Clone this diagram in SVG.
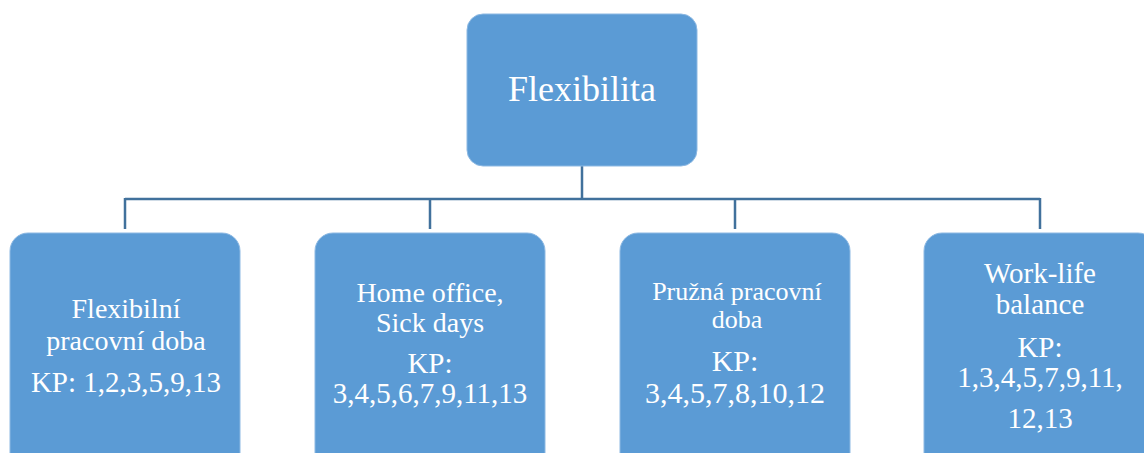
<svg xmlns="http://www.w3.org/2000/svg" width="1144" height="453" viewBox="0 0 1144 453">
<style>
.box{fill:#5B9BD5;stroke:#8DB9E3;stroke-width:1}
.t{font-family:"Liberation Serif","Times New Roman",Times,"DejaVu Serif",serif;fill:#fff;text-anchor:middle}
.c{fill:none;stroke:#41719C;stroke-width:2.5}
</style>
<rect width="1144" height="453" fill="#fff"/>
<g id="connectors">
<path class="c" d="M582 166V199M125 199H1040M125 198V229M430 198V229M735 198V229M1040 198V229"/>
</g>
<g id="root">
<rect class="box" x="467" y="14" width="230" height="152" rx="16"/>
<text class="t" x="582" y="101" font-size="36">Flexibilita</text>
</g>
<g id="n1">
<rect class="box" x="10" y="233" width="230" height="240" rx="18"/>
<text class="t" x="126" y="318" font-size="28">Flexibilní</text>
<text class="t" x="126" y="350" font-size="28">pracovní doba</text>
<text class="t" x="126" y="392" font-size="29">KP: 1,2,3,5,9,13</text>
</g>
<g id="n2">
<rect class="box" x="315" y="233" width="230" height="240" rx="18"/>
<text class="t" x="430" y="302" font-size="28">Home office,</text>
<text class="t" x="430" y="332" font-size="28">Sick days</text>
<text class="t" x="430" y="373" font-size="29">KP:</text>
<text class="t" x="430" y="403" font-size="29">3,4,5,6,7,9,11,13</text>
</g>
<g id="n3">
<rect class="box" x="620" y="233" width="230" height="240" rx="18"/>
<text class="t" x="737" y="300" font-size="26">Pružná pracovní</text>
<text class="t" x="737" y="328" font-size="26">doba</text>
<text class="t" x="735" y="371" font-size="30">KP:</text>
<text class="t" x="735" y="403" font-size="30">3,4,5,7,8,10,12</text>
</g>
<g id="n4">
<rect class="box" x="924" y="233" width="232" height="240" rx="18"/>
<text class="t" x="1040" y="283" font-size="29">Work-life</text>
<text class="t" x="1040" y="314" font-size="29">balance</text>
<text class="t" x="1040" y="357" font-size="29">KP:</text>
<text class="t" x="1040" y="387" font-size="29">1,3,4,5,7,9,11,</text>
<text class="t" x="1040" y="428" font-size="29">12,13</text>
</g>
</svg>
